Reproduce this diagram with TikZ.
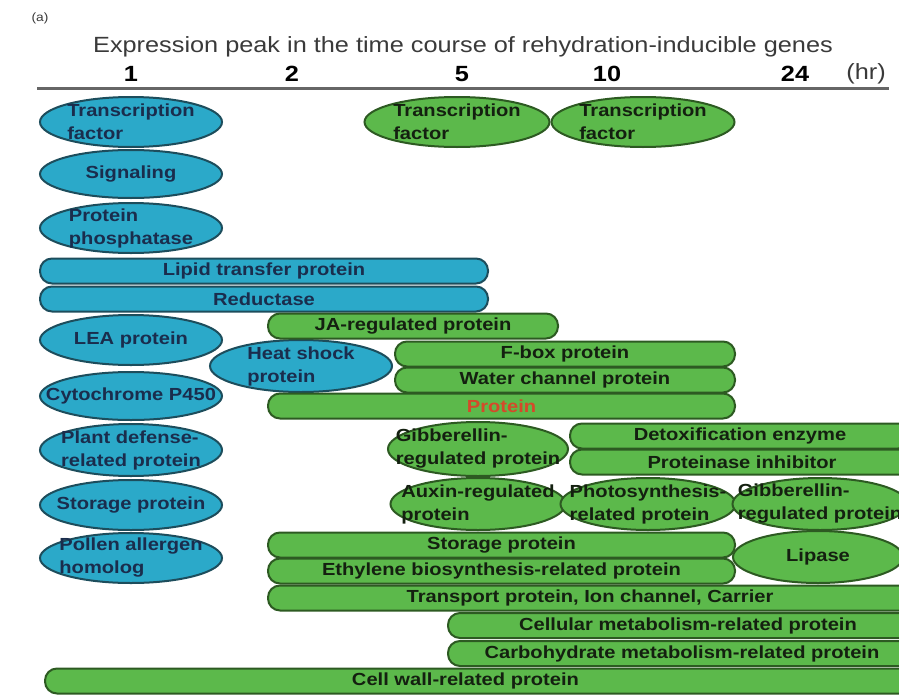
\documentclass[tikz,border=0pt]{standalone}
\usepackage{fontspec}
\setmainfont{Liberation Sans}[FakeStretch=1.15]
\usetikzlibrary{shapes.geometric}
\definecolor{pillblue}{HTML}{2BA9C9}
\definecolor{pillblueline}{HTML}{1D4D5C}
\definecolor{pillgreen}{HTML}{5CB94B}
\definecolor{pillgreenline}{HTML}{2D5A22}
\definecolor{bluetext}{HTML}{1A2D4D}
\definecolor{greentext}{HTML}{142010}
\definecolor{redtext}{HTML}{D44A2A}
\definecolor{axisgray}{HTML}{666666}
\definecolor{titlegray}{HTML}{3A3A3A}
\newcommand\pillfont{\bfseries\fontsize{17.5}{23}\selectfont}
\tikzset{
  bluepill/.style  = {ellipse, draw=pillblueline, fill=pillblue, line width=2pt,
                      minimum width=182pt, minimum height=50pt, inner sep=0pt},
  greenpill/.style = {bluepill, draw=pillgreenline, fill=pillgreen},
  bluebar/.style   = {rectangle, rounded corners=12pt, draw=pillblueline, fill=pillblue,
                      line width=2pt, minimum height=25pt, inner sep=1pt,
                      font=\pillfont, text=bluetext},
  greenbar/.style  = {bluebar, draw=pillgreenline, fill=pillgreen, text=greentext},
  bluelabel/.style = {font=\pillfont, align=left, text=bluetext, inner sep=0pt},
  greenlabel/.style= {bluelabel, text=greentext},
  titletext/.style = {font=\fontsize{22}{24}\selectfont, text=titlegray, inner sep=0pt},
  hourtext/.style  = {font=\bfseries\fontsize{22}{24}\selectfont, inner sep=0pt},
  unittext/.style  = {font=\fontsize{22}{24}\selectfont, text=titlegray, inner sep=0pt},
  tagtext/.style   = {font=\fontsize{12}{14}\selectfont, text=titlegray, inner sep=0pt},
  axisline/.style  = {draw=axisgray, line width=3pt},
}
\begin{document}
\begin{tikzpicture}[x=1pt, y=-1pt]
  \useasboundingbox (0,0) rectangle (899,696);
  \clip (0,0) rectangle (899,696);

  % header and time axis
  \node[tagtext]   (tag)   at (40,18)  {(a)};
  \node[titletext] (title) at (463,47) {Expression peak in the time course of rehydration-inducible genes};
  \node[hourtext]  (hone)  at (131,74) {1};
  \node[hourtext]  (htwo)  at (292,74) {2};
  \node[hourtext]  (hfive) at (462,74) {5};
  \node[hourtext]  (hten)  at (607,74) {10};
  \node[hourtext]  (htf)   at (795,74) {24};
  \node[unittext]  (hr)    at (866,74) {(hr)};
  \coordinate (axisL) at (37,88);
  \coordinate (axisR) at (889,88);
  \draw[axisline] (axisL) -- (axisR);

  % 1 hr peak
  \node[bluepill, label={[bluelabel]center:{Transcription\\factor}}] (tfone) at (131,122) {};
  \node[bluepill, minimum height=48pt, label={[bluelabel]center:Signaling}] (signal) at (131,174) {};
  \node[bluepill, label={[bluelabel]center:{Protein\\phosphatase}}] (phos) at (131,228) {};
  \node[bluebar, minimum width=448pt] (lipid)  at (264,271) {Lipid transfer protein};
  \node[bluebar, minimum width=448pt] (reduct) at (264,299) {Reductase};
  \node[bluepill, label={[bluelabel]center:LEA protein}] (lea) at (131,340) {};
  \node[bluepill, minimum height=48pt, label={[bluelabel]center:Cytochrome P450}] (cyto) at (131,396) {};
  \node[bluepill, minimum height=52pt, label={[bluelabel]center:{Heat shock\\protein}}] (heat) at (301,366) {};
  \node[bluepill, minimum height=52pt, label={[bluelabel]center:{Plant defense-\\related protein}}] (defense) at (131,450) {};
  \node[bluepill, label={[bluelabel]center:Storage protein}] (storeblue) at (131,505) {};
  \node[bluepill, label={[bluelabel]center:{Pollen allergen\\homolog}}] (pollen) at (131,558) {};

  % 2--24 hr peaks
  \node[greenpill, minimum width=185pt, label={[greenlabel]center:{Transcription\\factor}}] (tffive) at (457,122) {};
  \node[greenpill, minimum width=183pt, label={[greenlabel]center:{Transcription\\factor}}] (tften) at (643,122) {};
  \node[greenbar, minimum width=290pt] (ja)    at (413,326) {JA-regulated protein};
  \node[greenbar, minimum width=340pt] (fbox)  at (565,354) {F-box protein};
  \node[greenbar, minimum width=340pt] (water) at (565,380) {Water channel protein};
  \node[greenbar, minimum width=467pt, text=redtext] (prot) at (501.5,406) {Protein};
  \node[greenbar, minimum width=340pt] (detox)   at (740,436) {Detoxification enzyme};
  \node[greenbar, minimum width=344pt] (protinh) at (742,462) {Proteinase inhibitor};
  \node[greenpill, minimum width=180pt, minimum height=54pt, label={[greenlabel]center:{Gibberellin-\\regulated protein}}] (gibleft) at (478,449) {};
  \node[greenpill, minimum width=175pt, minimum height=52pt, label={[greenlabel]center:{Auxin-regulated\\protein}}] (auxin) at (478,504) {};
  \node[greenpill, minimum width=175pt, minimum height=52pt, label={[greenlabel]center:{Photosynthesis-\\related protein}}] (photo) at (648,504) {};
  \node[greenpill, minimum width=175pt, minimum height=52pt, label={[greenlabel]center:{Gibberellin-\\regulated protein}}] (gibright) at (820,504) {};
  \node[greenbar, minimum width=467pt] (storegreen) at (501.5,545) {Storage protein};
  \node[greenbar, minimum width=467pt] (ethyl)      at (501.5,571) {Ethylene biosynthesis-related protein};
  \node[greenpill, minimum width=170pt, minimum height=52pt, label={[greenlabel]center:Lipase}] (lipase) at (818,557) {};
  \node[greenbar, minimum width=644pt] (transport) at (590,598)   {Transport protein, Ion channel, Carrier};
  \node[greenbar, minimum width=480pt] (cellmeta)  at (688,625.5) {Cellular metabolism-related protein};
  \node[greenbar, minimum width=468pt] (carbo)     at (682,653.5) {Carbohydrate metabolism-related protein};
  \node[greenbar, minimum width=895pt, label={[greenlabel, xshift=-27pt]center:Cell wall-related protein}] (cellwall) at (492.5,681) {};
\end{tikzpicture}
\end{document}
